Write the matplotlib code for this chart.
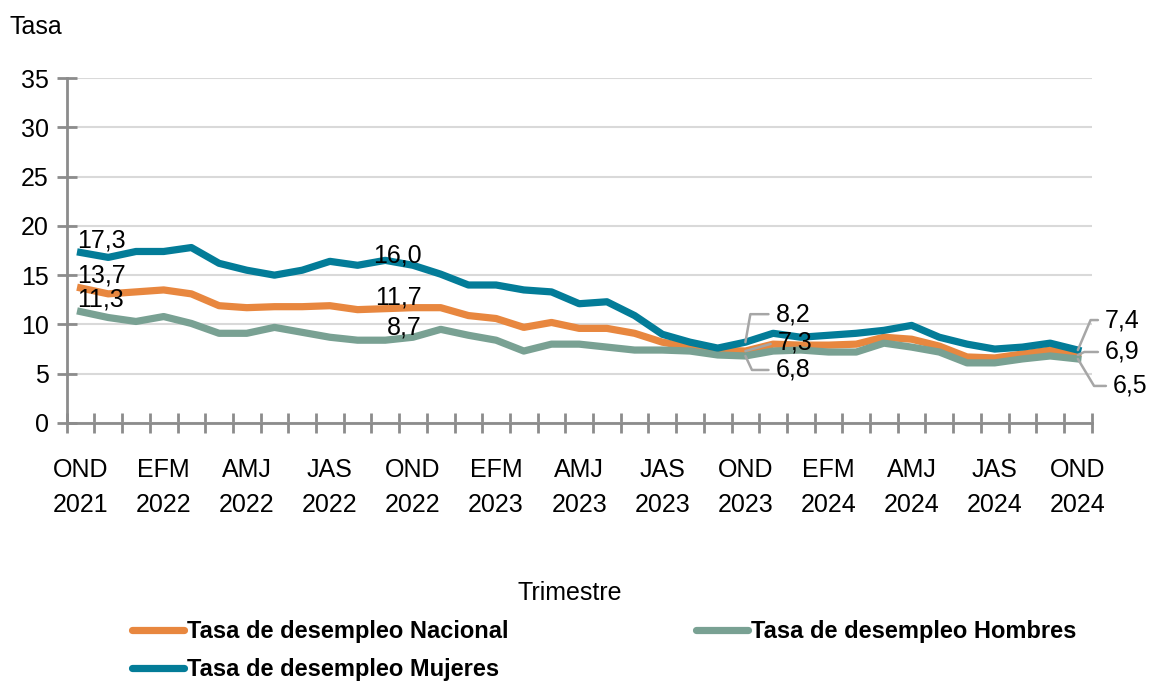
import numpy as np
import matplotlib
matplotlib.use("Agg")
import matplotlib.pyplot as plt
from matplotlib.lines import Line2D

plt.rcParams['font.family'] = ['Liberation Sans', 'DejaVu Sans']

# trimestres móviles, OND 2021 - OND 2024
trimestres = ['OND 2021', 'NDE 2022', 'DEF 2022', 'EFM 2022', 'FMA 2022', 'MAM 2022',
              'AMJ 2022', 'MJJ 2022', 'JJA 2022', 'JAS 2022', 'ASO 2022', 'SON 2022',
              'OND 2022', 'NDE 2023', 'DEF 2023', 'EFM 2023', 'FMA 2023', 'MAM 2023',
              'AMJ 2023', 'MJJ 2023', 'JJA 2023', 'JAS 2023', 'ASO 2023', 'SON 2023',
              'OND 2023', 'NDE 2024', 'DEF 2024', 'EFM 2024', 'FMA 2024', 'MAM 2024',
              'AMJ 2024', 'MJJ 2024', 'JJA 2024', 'JAS 2024', 'ASO 2024', 'SON 2024',
              'OND 2024']

nacional = [13.7, 13.1, 13.3, 13.5, 13.1, 11.9, 11.7, 11.8, 11.8, 11.9, 11.5, 11.6,
            11.7, 11.7, 10.9, 10.6, 9.7, 10.2, 9.6, 9.6, 9.1, 8.2, 7.7, 7.4,
            7.3, 8.0, 7.9, 7.9, 8.0, 8.7, 8.5, 7.8, 6.7, 6.6, 7.0, 7.4, 6.9]
mujeres = [17.3, 16.8, 17.4, 17.4, 17.8, 16.2, 15.5, 15.0, 15.5, 16.4, 16.0, 16.5,
           16.0, 15.1, 14.0, 14.0, 13.5, 13.3, 12.1, 12.3, 10.9, 9.0, 8.2, 7.6,
           8.2, 9.1, 8.7, 8.9, 9.1, 9.4, 9.9, 8.7, 8.0, 7.5, 7.7, 8.1, 7.4]
hombres = [11.3, 10.7, 10.3, 10.8, 10.1, 9.1, 9.1, 9.7, 9.2, 8.7, 8.4, 8.4,
           8.7, 9.5, 8.9, 8.4, 7.3, 8.0, 8.0, 7.7, 7.4, 7.4, 7.3, 6.9,
           6.8, 7.3, 7.4, 7.2, 7.2, 8.1, 7.7, 7.2, 6.1, 6.1, 6.5, 6.8, 6.5]

c_nac = '#E8873F'
c_muj = '#037C98'
c_hom = '#79A193'
grey = '#8C8C8C'

x = np.arange(len(trimestres))


def fmt(v):
    return f'{v:.1f}'.replace('.', ',')


fig = plt.figure(figsize=(11.5, 6.92), dpi=100)
ax = fig.add_axes([66.7 / 1150, 1 - 423 / 692, 1025 / 1150, 345 / 692])

ax.plot(x, nacional, color=c_nac, lw=5.2, solid_joinstyle='round', zorder=3)
ax.plot(x, hombres, color=c_hom, lw=5.2, solid_joinstyle='round', zorder=3)
ax.plot(x, mujeres, color=c_muj, lw=5.2, solid_joinstyle='round', zorder=3)

ax.set_xlim(-0.5, len(x) - 0.5)
ax.set_ylim(0, 35)
ax.set_yticks(range(0, 36, 5))
ax.yaxis.grid(True, color='#D9D9D9', lw=1.5)
ax.set_axisbelow(True)

for s in ['top', 'right']:
    ax.spines[s].set_visible(False)
for s in ['left', 'bottom']:
    ax.spines[s].set_color(grey)
    ax.spines[s].set_linewidth(2)

ax.set_xticks(x[::3])
ax.set_xticklabels([t.replace(' ', '\n') for t in trimestres[::3]], linespacing=1.6)
ax.set_xticks(np.arange(-0.5, len(x), 1), minor=True)
ax.tick_params(axis='x', which='major', length=0, pad=25, labelsize=18)
ax.tick_params(axis='x', which='minor', direction='inout', length=14, width=2, color=grey)
ax.tick_params(axis='y', direction='inout', length=14, width=2, color=grey, pad=6, labelsize=18)

# etiquetas de datos
lab = dict(fontsize=18, textcoords='offset pixels', va='center')
for vals in (mujeres, nacional, hombres):
    ax.annotate(fmt(vals[0]), (0, vals[0]), xytext=(-3, 12), ha='left', **lab)
    ax.annotate(fmt(vals[12]), (12, vals[12]), xytext=(9, 10), ha='right', **lab)

lead = dict(arrowstyle='-', color='#A6A6A6', lw=1.8, relpos=(0, 0.5), shrinkA=3, shrinkB=0)
i = 24
ax.annotate(fmt(mujeres[i]), (i, mujeres[i]), xytext=(30, 28), ha='left', **lab,
            arrowprops=dict(connectionstyle='angle,angleA=0,angleB=80,rad=0', **lead))
ax.annotate(fmt(nacional[i]), (i, nacional[i]), xytext=(32, 9), ha='left', **lab,
            arrowprops=dict(connectionstyle='arc3', **lead))
ax.annotate(fmt(hombres[i]), (i, hombres[i]), xytext=(30, -14), ha='left', **lab,
            arrowprops=dict(connectionstyle='angle,angleA=0,angleB=-65,rad=0', **lead))
i = 36
ax.annotate(fmt(mujeres[i]), (i, mujeres[i]), xytext=(27, 30), ha='left', **lab,
            arrowprops=dict(connectionstyle='angle,angleA=0,angleB=67,rad=0', **lead))
ax.annotate(fmt(nacional[i]), (i, nacional[i]), xytext=(27, 3), ha='left', **lab,
            arrowprops=dict(connectionstyle='angle,angleA=0,angleB=25,rad=0', **lead))
ax.annotate(fmt(hombres[i]), (i, hombres[i]), xytext=(35, -27), ha='left', **lab,
            arrowprops=dict(connectionstyle='angle,angleA=0,angleB=-59,rad=0', **lead))

fig.text(10 / 1150, 1 - 27 / 692, 'Tasa', fontsize=18, ha='left', va='center')
fig.text(570 / 1150, 1 - 593 / 692, 'Trimestre', fontsize=18, ha='center', va='center')

h_nac = Line2D([], [], color=c_nac, lw=5.2, solid_capstyle='round')
h_muj = Line2D([], [], color=c_muj, lw=5.2, solid_capstyle='round')
h_hom = Line2D([], [], color=c_hom, lw=5.2, solid_capstyle='round')
leg_kw = dict(frameon=False, prop=dict(weight='bold', size=17), handlelength=2.2,
              handletextpad=0.15, labelspacing=0.65, borderaxespad=0, borderpad=0)
fig.legend([h_nac, h_muj], ['Tasa de desempleo Nacional', 'Tasa de desempleo Mujeres'],
           loc='upper left', bbox_to_anchor=(132 / 1150, 1 - 620 / 692), **leg_kw)
fig.legend([h_hom], ['Tasa de desempleo Hombres'],
           loc='upper left', bbox_to_anchor=(696 / 1150, 1 - 620 / 692), **leg_kw)

fig.savefig('out.png', dpi=100)
